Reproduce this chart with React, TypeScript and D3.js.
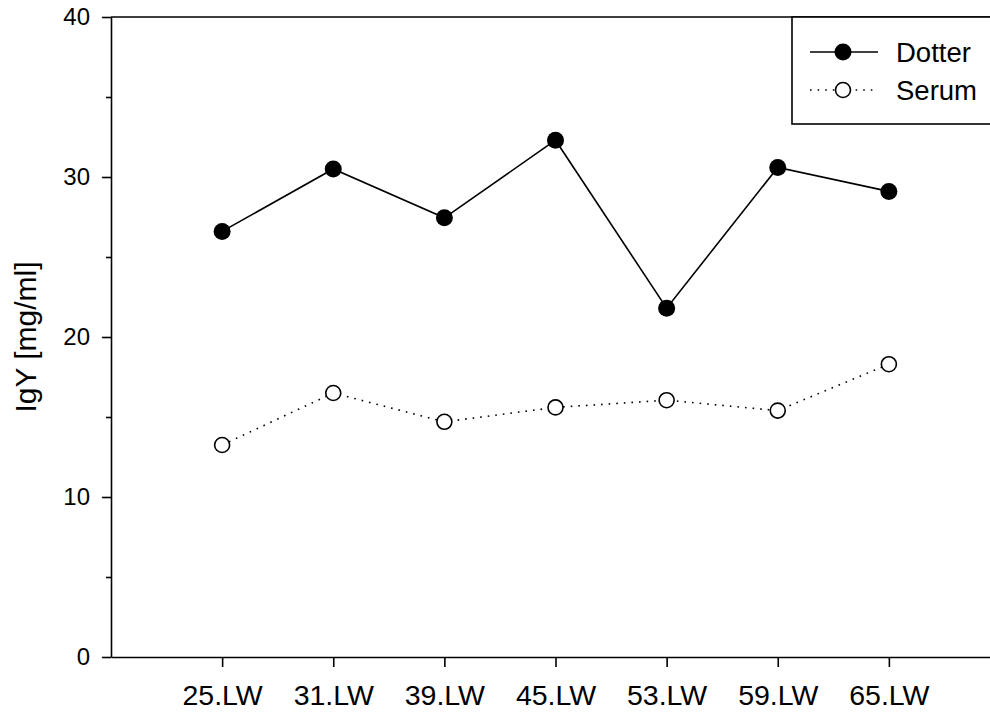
import React, { useRef, useEffect } from 'react';
import * as d3 from 'd3';

const weeks = ['25.LW', '31.LW', '39.LW', '45.LW', '53.LW', '59.LW', '65.LW'];
const dotter = [26.6, 30.5, 27.45, 32.3, 21.8, 30.6, 29.1];
const serum = [13.25, 16.5, 14.7, 15.6, 16.05, 15.4, 18.3];
const yTicks = [0, 10, 20, 30, 40];
const yMinorTicks = [5, 15, 25, 35];

const W = 990;
const H = 712;
const left = 111;
const right = 1000;
const top = 17;
const bottom = 657;
const font = '"Liberation Sans", Arial, sans-serif';

const App = () => {
  const svgRef = useRef<SVGSVGElement>(null);

  useEffect(() => {
    const svg = d3.select(svgRef.current);
    svg.selectAll('*').remove();

    const x = d3.scalePoint<string>().domain(weeks).range([left, right]).padding(1);
    const y = d3.scaleLinear().domain([0, 40]).range([bottom, top]);

    // frame (top + right), clipped by the window
    svg.append('path')
      .attr('d', `M${left},${top}H${right}V${bottom}`)
      .attr('fill', 'none').attr('stroke', '#000').attr('stroke-width', 1.6);

    // y axis
    const yAxis = svg.append('g').attr('transform', `translate(${left},0)`)
      .call(d3.axisLeft(y).tickValues(yTicks).tickSize(9).tickPadding(12).tickSizeOuter(0));
    yAxis.select('.domain').attr('stroke-width', 1.6);
    yAxis.selectAll('line').attr('stroke-width', 1.6);
    yAxis.selectAll('text').attr('font-size', 24).attr('font-family', font).attr('fill', '#000');

    const yMinor = svg.append('g').attr('transform', `translate(${left},0)`)
      .call(d3.axisLeft(y).tickValues(yMinorTicks).tickSize(5).tickFormat(() => '').tickSizeOuter(0));
    yMinor.select('.domain').remove();
    yMinor.selectAll('line').attr('stroke-width', 1.6);

    // x axis
    const xAxis = svg.append('g').attr('transform', `translate(0,${bottom})`)
      .call(d3.axisBottom(x).tickSize(10).tickPadding(18).tickSizeOuter(0));
    xAxis.select('.domain').attr('stroke-width', 1.6);
    xAxis.selectAll('line').attr('stroke-width', 1.6);
    xAxis.selectAll('text').attr('font-size', 28.5).attr('font-family', font).attr('fill', '#000');

    // y label
    svg.append('text')
      .attr('transform', `translate(36,337) rotate(-90)`)
      .attr('text-anchor', 'middle')
      .attr('font-size', 30).attr('font-family', font)
      .text('IgY [mg/ml]');

    const line = d3.line<number>().x((d, i) => x(weeks[i])!).y(d => y(d));

    svg.append('path').datum(dotter).attr('d', line)
      .attr('fill', 'none').attr('stroke', '#000').attr('stroke-width', 1.6);
    svg.append('path').datum(serum).attr('d', line)
      .attr('fill', 'none').attr('stroke', '#000').attr('stroke-width', 1.6)
      .attr('stroke-dasharray', '1.6,6');

    svg.selectAll('.dot-d').data(dotter).join('circle')
      .attr('class', 'dot-d')
      .attr('cx', (d, i) => x(weeks[i])!).attr('cy', d => y(d))
      .attr('r', 8.5).attr('fill', '#000');
    svg.selectAll('.dot-s').data(serum).join('circle')
      .attr('class', 'dot-s')
      .attr('cx', (d, i) => x(weeks[i])!).attr('cy', d => y(d))
      .attr('r', 7.5).attr('fill', '#fff').attr('stroke', '#000').attr('stroke-width', 1.6);

    // legend
    const lg = svg.append('g');
    lg.append('rect').attr('x', 792).attr('y', top).attr('width', 300).attr('height', 107)
      .attr('fill', '#fff').attr('stroke', '#000').attr('stroke-width', 1.6);
    const items = [
      { name: 'Dotter', y: 52, filled: true },
      { name: 'Serum', y: 90, filled: false },
    ];
    items.forEach(it => {
      lg.append('line').attr('x1', 810).attr('x2', 878).attr('y1', it.y).attr('y2', it.y)
        .attr('stroke', '#000').attr('stroke-width', 1.6)
        .attr('stroke-dasharray', it.filled ? null : '1.6,6');
      lg.append('circle').attr('cx', 843).attr('cy', it.y)
        .attr('r', it.filled ? 8.5 : 7.5)
        .attr('fill', it.filled ? '#000' : '#fff')
        .attr('stroke', '#000').attr('stroke-width', it.filled ? 0 : 1.6);
      lg.append('text').attr('x', 896).attr('y', it.y + 10)
        .attr('font-size', 27.5).attr('font-family', font).text(it.name);
    });
  }, []);

  return (
    <svg ref={svgRef} width={W} height={H}
      style={{ position: 'absolute', left: 0, top: 0, background: '#fff' }} />
  );
};

export default App;
